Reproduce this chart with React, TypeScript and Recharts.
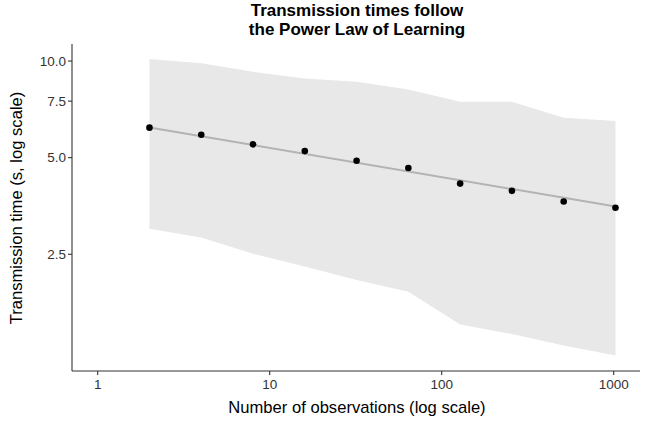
import React from "react";
import {
    ComposedChart,
    Area,
    Line,
    Scatter,
    XAxis,
    YAxis,
} from "recharts";

// observations: 2^1 .. 2^10
const observations = [2, 4, 8, 16, 32, 64, 128, 256, 512, 1024];
const meanTimes = [6.2, 5.89, 5.5, 5.24, 4.89, 4.64, 4.15, 3.94, 3.65, 3.49];
const upperTimes = [10.14, 9.84, 9.26, 8.83, 8.62, 8.16, 7.47, 7.47, 6.66, 6.5];
const lowerTimes = [3.0, 2.82, 2.51, 2.29, 2.08, 1.91, 1.51, 1.41, 1.3, 1.21];

// power-law fit, end points
const fitObservations = [2, 1024];
const fitTimes = [6.21, 3.52];

const xTicks = [1, 10, 100, 1000];
const yTicks = [2.5, 5, 7.5, 10];

const ribbonData = observations.map((x, i) => ({ x, range: [lowerTimes[i], upperTimes[i]] }));
const pointData = observations.map((x, i) => ({ x, y: meanTimes[i] }));
const fitData = fitObservations.map((x, i) => ({ x, fit: fitTimes[i] }));

const FONT = '"Liberation Sans", Arial, Helvetica, sans-serif';

const Dot = (props: any) => <circle cx={props.cx} cy={props.cy} r={3.3} fill="#000" />;

const YLabel = () => (
    <text
        x={22}
        y={208}
        transform="rotate(-90 22 208)"
        textAnchor="middle"
        fontSize={16.6}
        fontFamily={FONT}
        fill="#000"
    >
        Transmission time (s, log scale)
    </text>
);

const XLabel = () => (
    <text x={357} y={413} textAnchor="middle" fontSize={16.6} fontFamily={FONT} fill="#000">
        Number of observations (log scale)
    </text>
);

export default function App() {
    return (
        <div style={{ position: "absolute", left: 0, top: 0, width: 647, height: 421, background: "#fff", fontFamily: FONT }}>
            <div
                style={{
                    position: "absolute",
                    left: 72,
                    width: 570,
                    top: 1,
                    textAlign: "center",
                    fontWeight: "bold",
                    fontSize: 17,
                    lineHeight: "19px",
                    color: "#000",
                }}
            >
                Transmission times follow
                <br />
                the Power Law of Learning
            </div>
            <ComposedChart
                width={647}
                height={421}
                margin={{ top: 44, right: 7, bottom: 0, left: 0 }}
                style={{ position: "absolute", left: 0, top: 0 }}
            >
                <XAxis
                    type="number"
                    dataKey="x"
                    scale="log"
                    domain={[0.709, 1422]}
                    allowDataOverflow
                    ticks={xTicks}
                    tickFormatter={(v) => String(v)}
                    height={50}
                    stroke="#333"
                    strokeWidth={1.1}
                    tickSize={4}
                    tickMargin={4}
                    tick={{ fill: "#333", fontSize: 13.5, fontFamily: FONT }}
                    label={<XLabel />}
                />
                <YAxis
                    type="number"
                    scale="log"
                    domain={[1.082, 11.3]}
                    allowDataOverflow
                    ticks={yTicks}
                    tickFormatter={(v) => Number(v).toFixed(1)}
                    width={72}
                    stroke="#333"
                    strokeWidth={1.1}
                    tickSize={4}
                    tickMargin={2}
                    tick={{ fill: "#333", fontSize: 13.5, fontFamily: FONT }}
                    label={<YLabel />}
                />
                <Area
                    data={ribbonData}
                    dataKey="range"
                    type="linear"
                    stroke="none"
                    fill="#e8e8e8"
                    fillOpacity={1}
                    isAnimationActive={false}
                />
                <Line
                    data={fitData}
                    dataKey="fit"
                    type="linear"
                    stroke="#b3b3b3"
                    strokeWidth={2}
                    dot={false}
                    activeDot={false}
                    isAnimationActive={false}
                />
                <Scatter data={pointData} dataKey="y" shape={Dot} isAnimationActive={false} />
            </ComposedChart>
        </div>
    );
}
